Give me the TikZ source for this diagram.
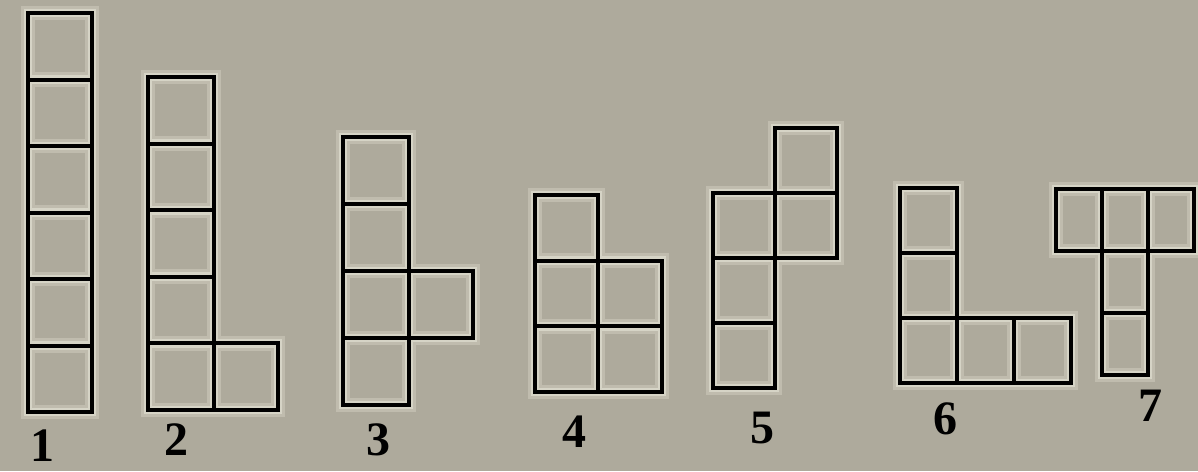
\documentclass[tikz,border=0pt]{standalone}
\usepackage{fontspec}
\setmainfont{Liberation Serif}
\definecolor{paper}{RGB}{174,170,156}
\definecolor{glow}{RGB}{214,212,198}
\begin{document}
\begin{tikzpicture}[x=0.75pt, y=-0.75pt,
        cell/.style={preaction={draw=glow, draw opacity=0.45, line width=11pt},
            preaction={draw=glow, line width=6.5pt}, draw=black, line width=3pt, line join=miter},
        num/.style={font=\fontsize{36}{38}\selectfont\bfseries, inner sep=0pt}]
        \fill[paper] (0,0) rectangle (1198,471);
        \useasboundingbox (0,0) rectangle (1198,471);
        % 1. six cells in one column
        \draw[cell] foreach \i in {0,...,5} {(28,13+66.5*\i) rectangle ++(64,66.5)};
        \node[num] (n1) at (42,446) {1};
        
        % 2. five cells plus one at the bottom right
        \draw[cell] foreach \i in {0,...,4} {(148,77+66.6*\i) rectangle ++(66,66.6)}
            (214,343.4) rectangle ++(64,66.6);
        \node[num] (n2) at (176,440) {2};
        
        % 3. four cells plus one on the right
        \draw[cell] foreach \i in {0,...,3} {(343,137+67*\i) rectangle ++(66,67)}
            (409,271) rectangle ++(64,67);
        \node[num] (n3) at (378,440) {3};
        
        % 4. three cells plus two
        \draw[cell] foreach \i in {0,...,2} {(535,195+65.7*\i) rectangle ++(63,65.7)}
            foreach \i in {1,2} {(598,195+65.7*\i) rectangle ++(64,65.7)};
        \node[num] (n4) at (574,432) {4};
        
        % 5. zigzag
        \draw[cell] (775,128) rectangle ++(62,65) (775,193) rectangle ++(62,65)
            foreach \i in {1,...,3} {(713,128+65*\i) rectangle ++(62,65)};
        \node[num] (n5) at (762,428) {5};
        
        % 6. three up, three across
        \draw[cell] foreach \i in {0,...,2} {(900,188+65*\i) rectangle ++(57,65)}
            foreach \i in {1,2} {(900+57*\i,318) rectangle ++(57,65)};
        \node[num] (n6) at (945,419) {6};
        
        % 7. T shape
        \draw[cell] foreach \i in {0,...,2} {(1056+46*\i,189) rectangle ++(46,62)}
            foreach \i in {1,2} {(1102,189+62*\i) rectangle ++(46,62)};
        \node[num] (n7) at (1150,406) {7};
        
    \end{tikzpicture}
\end{document}
